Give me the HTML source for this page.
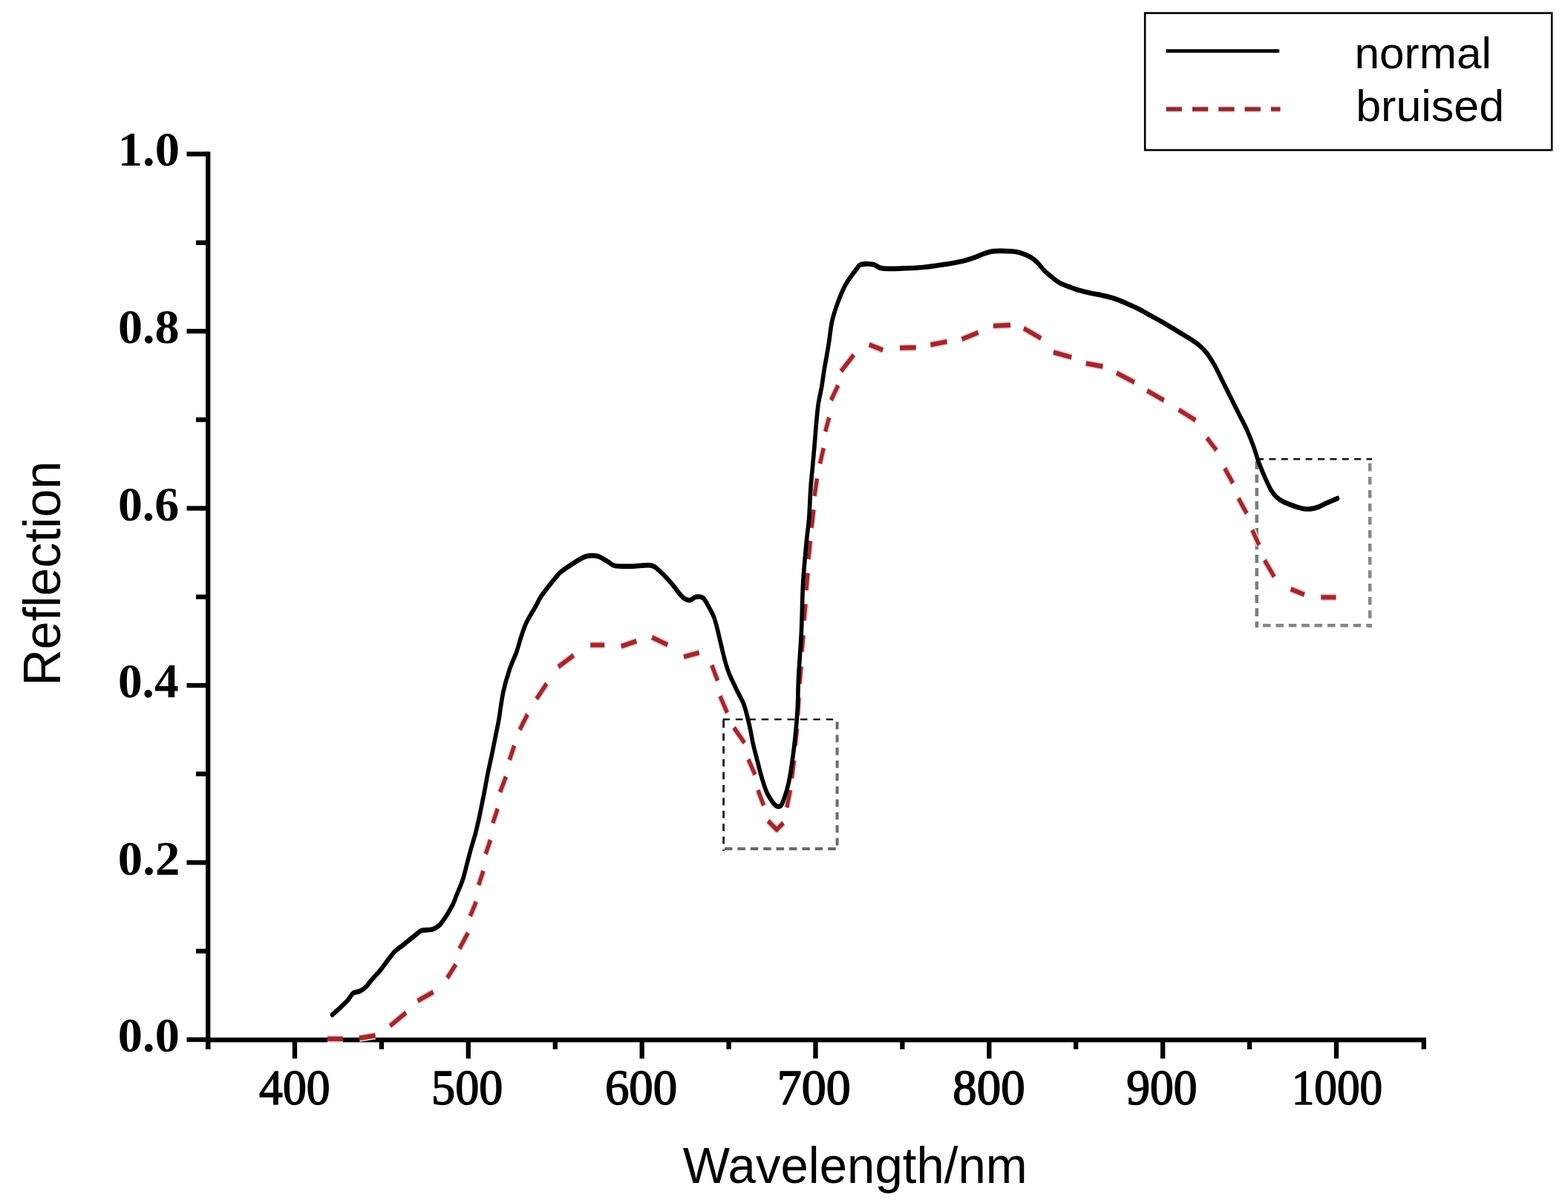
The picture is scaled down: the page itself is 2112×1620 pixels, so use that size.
<!DOCTYPE html>
<html><head><meta charset="utf-8"><title>Reflection spectra</title>
<style>html,body{margin:0;padding:0;background:#fff;}svg{display:block;}</style>
</head><body>
<svg width="2112" height="1620" viewBox="0 0 2112 1620">
<rect width="100%" height="100%" fill="#fff"/>
<g stroke="#000" stroke-width="6.3" fill="none" stroke-linecap="butt">
<line x1="280.2" y1="204.2" x2="280.2" y2="1413"/>
<line x1="277.1" y1="1400.4" x2="1921" y2="1400.4"/>
<line x1="251.5" y1="1400.0" x2="280.2" y2="1400.0"/>
<line x1="264" y1="1280.8" x2="280.2" y2="1280.8"/>
<line x1="251.5" y1="1161.5" x2="280.2" y2="1161.5"/>
<line x1="264" y1="1042.2" x2="280.2" y2="1042.2"/>
<line x1="251.5" y1="923.0" x2="280.2" y2="923.0"/>
<line x1="264" y1="803.8" x2="280.2" y2="803.8"/>
<line x1="251.5" y1="684.5" x2="280.2" y2="684.5"/>
<line x1="264" y1="565.2" x2="280.2" y2="565.2"/>
<line x1="251.5" y1="446.0" x2="280.2" y2="446.0"/>
<line x1="264" y1="326.8" x2="280.2" y2="326.8"/>
<line x1="251.5" y1="207.4" x2="280.2" y2="207.4"/>
<line x1="280.1" y1="1400.4" x2="280.1" y2="1413"/>
<line x1="397.0" y1="1400.4" x2="397.0" y2="1425.5"/>
<line x1="513.9" y1="1400.4" x2="513.9" y2="1413"/>
<line x1="630.8" y1="1400.4" x2="630.8" y2="1425.5"/>
<line x1="747.8" y1="1400.4" x2="747.8" y2="1413"/>
<line x1="864.7" y1="1400.4" x2="864.7" y2="1425.5"/>
<line x1="981.6" y1="1400.4" x2="981.6" y2="1413"/>
<line x1="1098.5" y1="1400.4" x2="1098.5" y2="1425.5"/>
<line x1="1215.4" y1="1400.4" x2="1215.4" y2="1413"/>
<line x1="1332.3" y1="1400.4" x2="1332.3" y2="1425.5"/>
<line x1="1449.2" y1="1400.4" x2="1449.2" y2="1413"/>
<line x1="1566.2" y1="1400.4" x2="1566.2" y2="1425.5"/>
<line x1="1683.1" y1="1400.4" x2="1683.1" y2="1413"/>
<line x1="1800.0" y1="1400.4" x2="1800.0" y2="1425.5"/>
<line x1="1917.8" y1="1400.4" x2="1917.8" y2="1413"/>
</g>
<text transform="translate(158.87,1416.07) scale(1.0142,1)" font-family="'Liberation Serif', 'Times New Roman', serif" font-weight="bold" font-size="65.52">0.0</text>
<text transform="translate(158.86,1177.57) scale(1.0184,1)" font-family="'Liberation Serif', 'Times New Roman', serif" font-weight="bold" font-size="65.52">0.2</text>
<text transform="translate(158.91,939.07) scale(0.9976,1)" font-family="'Liberation Serif', 'Times New Roman', serif" font-weight="bold" font-size="65.52">0.4</text>
<text transform="translate(158.89,700.57) scale(1.0067,1)" font-family="'Liberation Serif', 'Times New Roman', serif" font-weight="bold" font-size="65.52">0.6</text>
<text transform="translate(158.88,462.07) scale(1.0100,1)" font-family="'Liberation Serif', 'Times New Roman', serif" font-weight="bold" font-size="65.52">0.8</text>
<text transform="translate(158.67,223.47) scale(1.0168,1)" font-family="'Liberation Serif', 'Times New Roman', serif" font-weight="bold" font-size="65.52">1.0</text>
<text transform="translate(349.06,1487.04) scale(0.9367,1)" font-family="'Liberation Serif', 'Times New Roman', serif" font-weight="normal" font-size="68.02" stroke="#000" stroke-width="1.6" stroke-linejoin="round">400</text>
<text transform="translate(581.07,1487.04) scale(0.9436,1)" font-family="'Liberation Serif', 'Times New Roman', serif" font-weight="normal" font-size="68.02" stroke="#000" stroke-width="1.6" stroke-linejoin="round">500</text>
<text transform="translate(814.92,1487.04) scale(0.9522,1)" font-family="'Liberation Serif', 'Times New Roman', serif" font-weight="normal" font-size="68.02" stroke="#000" stroke-width="1.6" stroke-linejoin="round">600</text>
<text transform="translate(1046.74,1487.04) scale(0.9720,1)" font-family="'Liberation Serif', 'Times New Roman', serif" font-weight="normal" font-size="68.02" stroke="#000" stroke-width="1.6" stroke-linejoin="round">700</text>
<text transform="translate(1283.33,1487.04) scale(0.9541,1)" font-family="'Liberation Serif', 'Times New Roman', serif" font-weight="normal" font-size="68.02" stroke="#000" stroke-width="1.6" stroke-linejoin="round">800</text>
<text transform="translate(1517.25,1487.04) scale(0.9347,1)" font-family="'Liberation Serif', 'Times New Roman', serif" font-weight="normal" font-size="68.02" stroke="#000" stroke-width="1.6" stroke-linejoin="round">900</text>
<text transform="translate(1739.72,1487.04) scale(0.9006,1)" font-family="'Liberation Serif', 'Times New Roman', serif" font-weight="normal" font-size="68.02" stroke="#000" stroke-width="1.6" stroke-linejoin="round">1000</text>
<text transform="translate(919.70,1592.91) scale(0.9888,1)" font-family="'Liberation Sans', Arial, sans-serif" font-weight="normal" font-size="67.91">Wavelength/nm</text>
<text transform="translate(80.80,923.59) rotate(-90) scale(0.9790,1)" font-family="'Liberation Sans', Arial, sans-serif" font-size="69.55">Reflection</text>
<rect x="1542.2" y="17.6" width="548" height="184.5" fill="none" stroke="#000" stroke-width="2.6"/>
<line x1="1570.6" y1="68.6" x2="1723.2" y2="68.6" stroke="#000" stroke-width="4.6"/>
<line x1="1570.7" y1="146.9" x2="1724.5" y2="146.9" stroke="#f5cfd1" stroke-width="9" stroke-dasharray="21.3 14"/>
<line x1="1570.7" y1="146.9" x2="1724.5" y2="146.9" stroke="#862c30" stroke-width="5.5" stroke-dasharray="21.3 14"/>
<text transform="translate(1824.49,92.02) scale(1.0187,1)" font-family="'Liberation Sans', Arial, sans-serif" font-weight="normal" font-size="59.23">normal</text>
<text transform="translate(1826.17,162.83) scale(1.0418,1)" font-family="'Liberation Sans', Arial, sans-serif" font-weight="normal" font-size="58.55">bruised</text>
<g fill="none">
<line x1="973.5" y1="968.8" x2="1128.0" y2="968.8" stroke="#1a1a1a" stroke-width="2.5" stroke-dasharray="9.5 7.9"/>
<line x1="974.6" y1="970.0" x2="974.6" y2="1146.0" stroke="#262626" stroke-width="3.0" stroke-dasharray="10 7.4"/>
<line x1="976.0" y1="1143.0" x2="1128.0" y2="1143.0" stroke="#6a6a6a" stroke-width="4.2" stroke-dasharray="10.5 6.9"/>
<line x1="1127.6" y1="972.0" x2="1127.6" y2="1146.0" stroke="#6a6a6a" stroke-width="4.0" stroke-dasharray="10 7.4"/>
<line x1="1693.0" y1="618.3" x2="1848.0" y2="618.3" stroke="#111" stroke-width="2.5" stroke-dasharray="9 7.4"/>
<line x1="1692.8" y1="621.0" x2="1692.8" y2="845.0" stroke="#7d7d7d" stroke-width="4.6" stroke-dasharray="11 7"/>
<line x1="1701.0" y1="842.2" x2="1848.0" y2="842.2" stroke="#858585" stroke-width="4.6" stroke-dasharray="10.5 6.9"/>
<line x1="1845.2" y1="624.0" x2="1845.2" y2="845.0" stroke="#888" stroke-width="4.6" stroke-dasharray="10.5 7.5"/>
</g>
<g transform="scale(1,1.200)" fill="none" stroke-linejoin="round">
<path d="M441.00,1165.83 L462.00,1165.83 M484.00,1165.00 L505.70,1162.08 M525.40,1151.25 L546.90,1136.42 M562.50,1123.33 L583.60,1113.33 M602.40,1097.50 L614.00,1082.17 M618.80,1064.58 L630.50,1046.67 M633.30,1028.00 L641.40,1011.92 M644.60,993.33 L651.00,977.17 M654.20,958.33 L660.60,942.50 M663.80,923.67 L670.30,907.50 M673.50,888.92 L681.50,871.50 M686.30,852.75 L692.70,836.67 M700.10,818.92 L710.50,801.67 M722.60,784.33 L736.40,767.08 M752.00,748.33 L772.70,735.42 M795.20,723.83 L814.20,723.83 M836.70,725.33 L857.40,719.50 M878.10,715.25 L899.30,723.67 M921.00,737.08 L941.80,732.33 M958.70,746.42 L966.70,763.83 M969.90,781.17 L979.50,799.92 M988.50,816.50 L1002.80,833.75 M1008.00,852.17 L1017.00,869.42 M1020.90,886.67 L1028.70,904.00 M1034.50,921.25 L1046.20,931.00 L1055.20,923.42 M1059.80,906.17 L1064.50,886.67 M1066.50,873.33 L1069.50,853.33 M1071.00,836.67 L1073.50,817.50 M1074.50,802.50 L1076.00,782.83 M1077.00,767.50 L1079.00,747.83 M1080.00,731.42 L1082.00,712.83 M1083.00,696.42 L1085.00,677.92 M1086.00,662.50 L1088.00,643.00 M1089.00,627.50 L1091.50,607.00 M1093.00,592.50 L1096.00,572.00 M1097.00,556.67 L1100.50,537.00 M1104.40,520.33 L1109.40,502.75 M1111.70,484.25 L1116.70,468.50 M1119.40,449.08 L1128.90,432.42 M1132.80,416.67 L1150.00,398.17 M1170.70,386.75 L1189.30,392.92 M1212.00,390.42 L1233.80,390.00 M1253.30,387.00 L1275.60,383.33 M1295.60,380.58 L1317.80,373.17 M1337.80,365.75 L1361.10,364.83 M1378.90,368.50 L1402.20,379.67 M1418.90,395.33 L1443.30,400.92 M1462.70,407.75 L1485.40,411.25 M1503.90,418.42 L1528.00,429.00 M1545.10,438.50 L1567.80,449.17 M1587.70,459.83 L1610.40,471.67 M1625.60,491.33 L1638.50,505.25 M1649.60,525.33 L1660.70,542.25 M1668.10,559.25 L1679.30,576.25 M1686.70,594.75 L1695.90,611.75 M1703.30,628.67 L1716.30,647.25 M1738.50,661.08 L1757.00,667.25 M1779.30,670.33 L1799.60,670.33" stroke="#f6d0d3" stroke-width="8.60"/>
<path d="M441.00,1165.83 L462.00,1165.83 M484.00,1165.00 L505.70,1162.08 M525.40,1151.25 L546.90,1136.42 M562.50,1123.33 L583.60,1113.33 M602.40,1097.50 L614.00,1082.17 M618.80,1064.58 L630.50,1046.67 M633.30,1028.00 L641.40,1011.92 M644.60,993.33 L651.00,977.17 M654.20,958.33 L660.60,942.50 M663.80,923.67 L670.30,907.50 M673.50,888.92 L681.50,871.50 M686.30,852.75 L692.70,836.67 M700.10,818.92 L710.50,801.67 M722.60,784.33 L736.40,767.08 M752.00,748.33 L772.70,735.42 M795.20,723.83 L814.20,723.83 M836.70,725.33 L857.40,719.50 M878.10,715.25 L899.30,723.67 M921.00,737.08 L941.80,732.33 M958.70,746.42 L966.70,763.83 M969.90,781.17 L979.50,799.92 M988.50,816.50 L1002.80,833.75 M1008.00,852.17 L1017.00,869.42 M1020.90,886.67 L1028.70,904.00 M1034.50,921.25 L1046.20,931.00 L1055.20,923.42 M1059.80,906.17 L1064.50,886.67 M1066.50,873.33 L1069.50,853.33 M1071.00,836.67 L1073.50,817.50 M1074.50,802.50 L1076.00,782.83 M1077.00,767.50 L1079.00,747.83 M1080.00,731.42 L1082.00,712.83 M1083.00,696.42 L1085.00,677.92 M1086.00,662.50 L1088.00,643.00 M1089.00,627.50 L1091.50,607.00 M1093.00,592.50 L1096.00,572.00 M1097.00,556.67 L1100.50,537.00 M1104.40,520.33 L1109.40,502.75 M1111.70,484.25 L1116.70,468.50 M1119.40,449.08 L1128.90,432.42 M1132.80,416.67 L1150.00,398.17 M1170.70,386.75 L1189.30,392.92 M1212.00,390.42 L1233.80,390.00 M1253.30,387.00 L1275.60,383.33 M1295.60,380.58 L1317.80,373.17 M1337.80,365.75 L1361.10,364.83 M1378.90,368.50 L1402.20,379.67 M1418.90,395.33 L1443.30,400.92 M1462.70,407.75 L1485.40,411.25 M1503.90,418.42 L1528.00,429.00 M1545.10,438.50 L1567.80,449.17 M1587.70,459.83 L1610.40,471.67 M1625.60,491.33 L1638.50,505.25 M1649.60,525.33 L1660.70,542.25 M1668.10,559.25 L1679.30,576.25 M1686.70,594.75 L1695.90,611.75 M1703.30,628.67 L1716.30,647.25 M1738.50,661.08 L1757.00,667.25 M1779.30,670.33 L1799.60,670.33" stroke="#9a2b30" stroke-width="5.30"/>
<path d="M447.6,1138.8 C449.2,1137.6 453.5,1134.4 457.0,1131.7 C460.5,1128.9 465.6,1125.1 468.7,1122.2 C471.8,1119.4 473.1,1116.0 475.7,1114.4 C478.2,1112.8 481.3,1113.5 484.0,1112.5 C486.7,1111.5 489.3,1110.5 492.0,1108.3 C494.7,1106.2 497.1,1103.0 500.4,1099.8 C503.7,1096.5 508.3,1092.8 512.0,1089.0 C515.7,1085.2 519.3,1080.8 522.6,1077.2 C525.9,1073.7 528.7,1070.3 532.0,1067.5 C535.3,1064.7 538.9,1063.1 542.6,1060.7 C546.3,1058.2 550.4,1055.4 554.3,1052.8 C558.2,1050.2 563.4,1046.5 566.0,1045.0 C568.6,1043.5 567.3,1044.3 570.0,1043.9 C572.7,1043.6 578.9,1043.7 582.3,1042.9 C585.7,1042.2 588.1,1040.8 590.4,1039.3 C592.7,1037.9 594.1,1036.1 595.9,1034.2 C597.6,1032.3 599.2,1030.1 600.9,1028.0 C602.5,1025.9 604.2,1023.7 605.8,1021.3 C607.4,1018.9 609.3,1016.2 610.7,1013.6 C612.1,1011.0 613.2,1008.4 614.4,1005.8 C615.6,1003.3 616.9,1000.7 618.1,998.2 C619.4,995.6 620.8,993.0 621.9,990.4 C623.0,987.8 623.6,986.7 624.9,982.8 C626.2,978.8 628.2,972.1 629.8,966.8 C631.4,961.6 633.0,956.6 634.7,951.4 C636.4,946.3 638.6,941.1 640.2,936.0 C641.9,930.9 643.2,925.6 644.6,920.6 C646.0,915.6 646.9,911.4 648.3,905.8 C649.7,900.2 651.3,893.4 652.8,886.9 C654.3,880.4 655.7,873.6 657.3,866.9 C658.9,860.2 660.8,853.5 662.5,846.8 C664.2,840.1 665.7,833.4 667.3,826.8 C668.9,820.1 670.4,814.9 672.1,806.7 C673.8,798.4 675.3,786.4 677.7,777.2 C680.1,767.9 683.3,758.8 686.3,751.2 C689.3,743.7 693.2,737.6 695.7,731.8 C698.2,725.9 699.3,721.5 701.3,716.3 C703.3,711.2 705.5,705.4 707.8,700.9 C710.1,696.4 712.9,692.8 715.2,689.3 C717.5,685.9 719.6,683.3 721.7,680.1 C723.9,676.9 725.5,673.5 728.1,670.1 C730.7,666.7 734.2,663.0 737.4,659.6 C740.6,656.1 744.5,652.2 747.4,649.3 C750.3,646.4 751.5,644.6 754.8,642.2 C758.1,639.8 762.8,637.4 767.1,635.0 C771.4,632.6 776.5,629.7 780.6,627.8 C784.7,626.0 787.6,624.3 791.7,623.8 C795.8,623.2 800.5,623.1 805.2,624.2 C809.9,625.4 816.1,629.1 820.0,630.9 C823.9,632.7 823.5,634.2 828.6,635.0 C833.7,635.8 842.8,635.6 850.8,635.5 C858.8,635.4 870.5,633.7 876.6,634.5 C882.8,635.3 884.0,637.7 887.7,640.2 C891.4,642.6 895.5,646.4 898.8,649.3 C902.1,652.2 904.7,654.8 907.4,657.6 C910.1,660.3 912.3,663.4 914.8,665.8 C917.3,668.1 919.7,670.6 922.2,671.9 C924.7,673.2 927.1,673.8 929.6,673.5 C932.1,673.2 934.1,670.3 937.0,669.9 C939.9,669.5 943.7,668.9 946.8,670.9 C949.9,673.0 952.9,678.6 955.4,682.2 C957.9,685.8 959.8,688.4 961.6,692.5 C963.5,696.6 964.9,701.5 966.5,706.8 C968.1,712.1 969.5,717.9 971.4,724.2 C973.2,730.6 975.7,739.3 977.6,744.8 C979.5,750.2 980.2,752.1 982.7,757.1 C985.2,762.0 989.2,768.9 992.4,774.5 C995.6,780.1 999.2,784.4 1002.0,790.8 C1004.8,797.3 1007.1,805.9 1009.2,813.2 C1011.3,820.6 1012.7,828.3 1014.4,834.8 C1016.1,841.3 1017.7,845.9 1019.6,852.2 C1021.5,858.5 1023.9,866.6 1026.1,872.7 C1028.3,878.8 1030.2,884.3 1032.6,888.8 C1035.0,893.3 1038.3,897.2 1040.3,899.7 C1042.3,902.2 1043.2,902.8 1044.5,903.8 C1045.8,904.7 1046.9,905.0 1048.1,905.1 C1049.3,905.1 1050.7,904.9 1051.8,904.0 C1052.9,903.1 1053.3,902.6 1054.6,899.7 C1055.9,896.8 1058.3,891.2 1059.8,886.7 C1061.3,882.2 1062.4,878.6 1063.7,872.7 C1065.0,866.7 1066.5,857.4 1067.6,851.1 C1068.7,844.8 1069.2,841.1 1070.1,834.8 C1070.9,828.5 1072.0,820.4 1072.7,813.2 C1073.4,806.1 1074.0,800.3 1074.5,791.7 C1075.0,783.0 1074.7,775.3 1075.5,761.5 C1076.3,747.7 1078.4,726.5 1079.4,709.0 C1080.4,691.5 1080.5,672.6 1081.5,656.6 C1082.5,640.6 1084.4,625.2 1085.7,612.8 C1087.0,600.5 1088.5,593.6 1089.6,582.5 C1090.6,571.4 1091.2,555.6 1092.0,546.2 C1092.8,536.9 1093.4,533.8 1094.2,526.7 C1095.0,519.6 1095.8,512.1 1096.7,503.7 C1097.6,495.2 1098.5,484.2 1099.4,475.9 C1100.3,467.6 1101.0,460.6 1102.2,453.7 C1103.4,446.7 1105.4,440.6 1106.7,434.3 C1108.0,427.9 1108.8,421.9 1110.0,415.8 C1111.2,409.6 1112.8,402.7 1113.9,397.2 C1115.0,391.8 1115.6,389.5 1116.7,383.3 C1117.8,377.2 1118.8,367.7 1120.7,360.5 C1122.6,353.3 1125.3,346.8 1128.1,340.4 C1130.9,334.0 1134.3,327.1 1137.4,321.9 C1140.5,316.8 1144.0,312.9 1146.7,309.6 C1149.4,306.3 1151.4,304.2 1153.6,302.1 C1155.8,300.0 1155.9,297.7 1159.7,296.8 C1163.5,296.0 1171.6,296.1 1176.4,296.8 C1181.2,297.6 1181.9,300.5 1188.5,301.2 C1195.1,302.0 1206.7,301.5 1215.8,301.2 C1224.9,301.0 1235.4,300.5 1243.0,300.0 C1250.6,299.5 1254.9,298.8 1261.2,298.1 C1267.5,297.3 1275.1,296.4 1280.9,295.6 C1286.7,294.8 1291.0,294.1 1296.0,293.1 C1301.0,292.0 1305.6,290.8 1311.2,289.3 C1316.8,287.7 1324.6,284.8 1329.4,283.6 C1334.2,282.3 1334.2,281.9 1340.0,281.7 C1345.8,281.4 1358.1,281.7 1364.2,282.1 C1370.3,282.5 1372.4,283.2 1376.4,284.3 C1380.5,285.3 1385.0,286.9 1388.5,288.7 C1392.0,290.4 1394.6,292.4 1397.6,294.9 C1400.6,297.4 1403.4,301.0 1406.7,303.8 C1410.0,306.5 1413.8,309.0 1417.3,311.3 C1420.8,313.7 1423.6,315.8 1427.9,317.7 C1432.2,319.6 1439.0,321.5 1443.0,322.8 C1447.0,324.0 1447.9,324.4 1452.1,325.4 C1456.3,326.4 1462.8,327.8 1468.1,328.8 C1473.4,329.8 1478.8,330.4 1484.2,331.4 C1489.6,332.4 1494.9,333.3 1500.2,334.8 C1505.5,336.2 1511.0,338.2 1516.3,340.1 C1521.6,342.0 1526.9,343.9 1532.3,346.2 C1537.7,348.4 1543.1,351.1 1548.4,353.5 C1553.8,355.9 1559.1,358.3 1564.4,360.8 C1569.8,363.4 1575.2,366.2 1580.5,368.8 C1585.8,371.5 1591.2,374.1 1596.5,376.9 C1601.8,379.7 1607.8,382.4 1612.6,385.6 C1617.4,388.8 1621.4,392.0 1625.4,396.2 C1629.4,400.5 1632.8,405.4 1636.6,411.0 C1640.3,416.6 1644.4,423.9 1647.9,429.7 C1651.4,435.5 1654.0,439.9 1657.5,445.8 C1661.0,451.6 1665.1,458.4 1668.7,464.5 C1672.3,470.6 1676.1,476.2 1679.3,482.1 C1682.5,488.0 1685.2,493.7 1688.0,500.0 C1690.8,506.3 1693.3,514.0 1696.0,520.0 C1698.7,526.0 1701.3,531.1 1704.0,536.1 C1706.7,541.1 1709.3,546.3 1712.0,550.0 C1714.7,553.7 1717.3,556.2 1720.0,558.3 C1722.7,560.5 1724.0,561.2 1728.0,562.8 C1732.0,564.5 1739.6,566.8 1744.2,568.2 C1748.8,569.5 1751.9,570.3 1755.4,570.8 C1758.9,571.3 1761.5,571.4 1765.0,571.1 C1768.5,570.8 1772.8,569.9 1776.3,568.8 C1779.8,567.8 1781.8,566.4 1786.0,564.8 C1790.2,563.2 1798.9,560.2 1801.5,559.2" stroke="#000" stroke-width="5.60" stroke-linecap="round"/>
</g>
</svg>
</body></html>
